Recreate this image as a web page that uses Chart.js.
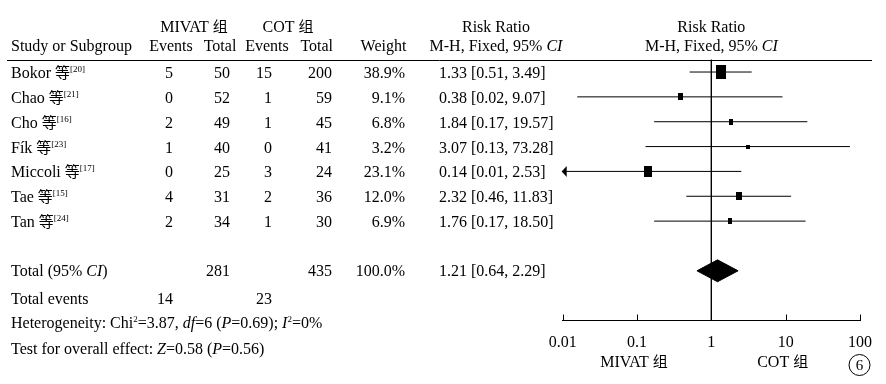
<!DOCTYPE html>
<html><head><meta charset="utf-8">
<style>html,body{margin:0;padding:0;background:#fff;overflow:hidden}canvas{display:block}</style>
<script src="https://cdn.jsdelivr.net/npm/chart.js@4/dist/chart.umd.min.js"></script>
</head><body>
<canvas id="c" width="886" height="384"></canvas>
<script>
// ---------- data ----------
const studies = ['Bokor', 'Chao', 'Cho', 'Fík', 'Miccoli', 'Tae', 'Tan'];
const refs = ['20', '21', '16', '23', '17', '15', '24'];
const mivatEvents = [5, 0, 2, 1, 0, 4, 2];
const mivatTotal = [50, 52, 49, 40, 25, 31, 34];
const cotEvents = [15, 1, 1, 0, 3, 2, 1];
const cotTotal = [200, 59, 45, 41, 24, 36, 30];
const weights = [38.9, 9.1, 6.8, 3.2, 23.1, 12.0, 6.9];
const riskRatio = [1.33, 0.38, 1.84, 3.07, 0.14, 2.32, 1.76];
const ciLow = [0.51, 0.0157, 0.17, 0.13, 0.0075, 0.46, 0.17];
const ciHigh = [3.49, 9.07, 19.57, 73.28, 2.53, 11.83, 18.50];
const totalRR = [1.21];
const totalLow = [0.64];
const totalHigh = [2.29];
const totalN = [281, 435];
const totalEvents = [14, 23];
const totalWeight = ['100.0%'];
const xTicks = [0.01, 0.1, 1, 10, 100];
const groupLabels = ['MIVAT 组', 'COT 组'];

// ---------- fonts / helpers ----------
const SERIF = '"Liberation Serif","Times New Roman",serif';
const CJK = '"Noto Sans CJK SC","Noto Sans CJK JP",sans-serif';
const FS = 16;
const FONTS = {n: FS + 'px ' + SERIF, i: 'italic ' + FS + 'px ' + SERIF, c: '15px ' + CJK, s: '9px ' + SERIF};
const RAISE = {n: 0, i: 0, c: 0, s: -6};

function rich(ctx, segs, x, y, align) {
  let w = 0;
  for (const s of segs) { ctx.font = FONTS[s[1]]; w += ctx.measureText(s[0]).width; }
  let cx = align === 'center' ? x - w / 2 : align === 'right' ? x - w : x;
  ctx.textAlign = 'left';
  ctx.textBaseline = 'alphabetic';
  for (const s of segs) {
    ctx.font = FONTS[s[1]];
    ctx.fillText(s[0], cx, y + RAISE[s[1]]);
    cx += ctx.measureText(s[0]).width;
  }
}
function splitCJK(str) {
  const out = [];
  for (const ch of str) {
    const f = /[\u3000-\u9fff]/.test(ch) ? 'c' : 'n';
    if (out.length && out[out.length - 1][1] === f) out[out.length - 1][0] += ch;
    else out.push([ch, f]);
  }
  return out;
}
const ci = (a, b, c) => a.toFixed(2) + ' [' + b.toFixed(2) + ', ' + c.toFixed(2) + ']';

// ---------- marker images ----------
function boxImg(wt) {
  const h = Math.round(Math.max(4, 2.25 * Math.sqrt(wt)));
  const w = Math.round(Math.max(4, h * 0.7));
  const cv = document.createElement('canvas');
  cv.width = w; cv.height = h;
  const g = cv.getContext('2d');
  g.fillStyle = '#000'; g.fillRect(0, 0, w, h);
  return cv;
}
const boxes = weights.map(boxImg);

// ---------- datasets ----------
const DH = 0.44;
const TOTAL_ROW = 8;
const datasets = [];
datasets.push({
  data: [{x: 1, y: -0.5}, {x: 1, y: 10}], showLine: true,
  borderColor: '#000', borderWidth: 1, pointRadius: 0
});
studies.forEach((s, i) => {
  datasets.push({
    data: [{x: ciLow[i], y: i}, {x: ciHigh[i], y: i}], showLine: true,
    borderColor: '#000', borderWidth: 1, pointRadius: 0
  });
});
datasets.push({
  data: riskRatio.map((v, i) => ({x: v, y: i})), showLine: false,
  pointStyle: boxes, pointRadius: 3, borderWidth: 0
});
datasets.push({
  data: [
    {x: totalLow[0], y: TOTAL_ROW}, {x: totalRR[0], y: TOTAL_ROW - DH},
    {x: totalHigh[0], y: TOTAL_ROW}, {x: totalRR[0], y: TOTAL_ROW + DH},
    {x: totalLow[0], y: TOTAL_ROW}
  ],
  showLine: true, fill: 'shape', backgroundColor: '#000', borderColor: '#000',
  borderWidth: 1, pointRadius: 0, tension: 0
});

// ---------- drawing plugin ----------
const tablePlugin = {
  id: 'table',
  afterDraw(chart) {
    const ctx = chart.ctx, xs = chart.scales.x, ys = chart.scales.y, area = chart.chartArea;
    ctx.save();
    ctx.fillStyle = '#000'; ctx.strokeStyle = '#000'; ctx.lineWidth = 1;
    ctx.beginPath(); ctx.moveTo(7, Math.round(area.top) + 0.5); ctx.lineTo(872, Math.round(area.top) + 0.5); ctx.stroke();
    xTicks.forEach(t => {
      const px = Math.round(xs.getPixelForValue(t)) + 0.5;
      ctx.beginPath(); ctx.moveTo(px, area.bottom); ctx.lineTo(px, area.bottom - 6); ctx.stroke();
    });
    studies.forEach((s, i) => {
      if (ciLow[i] < xs.min) {
        const px = xs.getPixelForValue(xs.min) - 1, py = ys.getPixelForValue(i);
        ctx.beginPath(); ctx.moveTo(px, py); ctx.lineTo(px + 5, py - 5.5); ctx.lineTo(px + 5, py + 5.5); ctx.closePath(); ctx.fill();
      }
    });
    const h1 = 31.5, h2 = 50.5;
    rich(ctx, splitCJK(groupLabels[0]), 194, h1, 'center');
    rich(ctx, splitCJK(groupLabels[1]), 288, h1, 'center');
    rich(ctx, [['Risk Ratio', 'n']], 496, h1, 'center');
    rich(ctx, [['Risk Ratio', 'n']], xs.getPixelForValue(1), h1, 'center');
    rich(ctx, [['Study or Subgroup', 'n']], 11, h2, 'left');
    rich(ctx, [['Events', 'n']], 171, h2, 'center');
    rich(ctx, [['Total', 'n']], 220, h2, 'center');
    rich(ctx, [['Events', 'n']], 267, h2, 'center');
    rich(ctx, [['Total', 'n']], 316.7, h2, 'center');
    rich(ctx, [['Weight', 'n']], 383.5, h2, 'center');
    const mh = [['M-H, Fixed, 95% ', 'n'], ['CI', 'i']];
    rich(ctx, mh, 496, h2, 'center');
    rich(ctx, mh, xs.getPixelForValue(1), h2, 'center');
    studies.forEach((s, i) => {
      const y = ys.getPixelForValue(i) + 6;
      rich(ctx, [[s + ' ', 'n'], ['等', 'c'], ['[' + refs[i] + ']', 's']], 11, y, 'left');
      rich(ctx, [[String(mivatEvents[i]), 'n']], 173, y, 'right');
      rich(ctx, [[String(mivatTotal[i]), 'n']], 230, y, 'right');
      rich(ctx, [[String(cotEvents[i]), 'n']], 272, y, 'right');
      rich(ctx, [[String(cotTotal[i]), 'n']], 332, y, 'right');
      rich(ctx, [[weights[i].toFixed(1) + '%', 'n']], 405, y, 'right');
      rich(ctx, [[ci(riskRatio[i], ciLow[i], ciHigh[i]), 'n']], 439, y, 'left');
    });
    const yt = ys.getPixelForValue(TOTAL_ROW) + 5.5;
    rich(ctx, [['Total (95% ', 'n'], ['CI', 'i'], [')', 'n']], 11, yt, 'left');
    rich(ctx, [[String(totalN[0]), 'n']], 230, yt, 'right');
    rich(ctx, [[String(totalN[1]), 'n']], 332, yt, 'right');
    rich(ctx, [[totalWeight[0], 'n']], 405, yt, 'right');
    rich(ctx, [[ci(totalRR[0], totalLow[0], totalHigh[0]), 'n']], 439, yt, 'left');
    rich(ctx, [['Total events', 'n']], 11, 304, 'left');
    rich(ctx, [[String(totalEvents[0]), 'n']], 173, 304, 'right');
    rich(ctx, [[String(totalEvents[1]), 'n']], 272, 304, 'right');
    rich(ctx, [['Heterogeneity: Chi', 'n'], ['2', 's'], ['=3.87, ', 'n'], ['df', 'i'], ['=6 (', 'n'], ['P', 'i'],
      ['=0.69); ', 'n'], ['I', 'i'], ['2', 's'], ['=0%', 'n']], 11, 327.5, 'left');
    rich(ctx, [['Test for overall effect: ', 'n'], ['Z', 'i'], ['=0.58 (', 'n'], ['P', 'i'], ['=0.56)', 'n']], 11, 353.5, 'left');
    rich(ctx, splitCJK(groupLabels[0]), xs.getPixelForValue(0.1) - 3, 367, 'center');
    rich(ctx, splitCJK(groupLabels[1]), xs.getPixelForValue(10) - 3, 367, 'center');
    ctx.beginPath(); ctx.arc(859.5, 365, 10.5, 0, Math.PI * 2); ctx.stroke();
    ctx.font = '15px ' + SERIF; ctx.textAlign = 'center'; ctx.textBaseline = 'alphabetic';
    ctx.fillText('6', 859.5, 370);
    ctx.restore();
  }
};

new Chart(document.getElementById('c'), {
  type: 'scatter',
  data: {datasets},
  options: {
    responsive: false, animation: false, devicePixelRatio: 1,
    layout: {padding: {left: 562.7, right: 26, top: 59.6, bottom: 0}},
    plugins: {legend: {display: false}, tooltip: {enabled: false}},
    scales: {
      x: {
        type: 'logarithmic', min: 0.01, max: 100, position: 'bottom',
        afterBuildTicks(s) { s.ticks = xTicks.map(v => ({value: v})); },
        afterFit(s) { s.height = 384 - 320.5; },
        grid: {display: false, drawTicks: false},
        border: {display: true, color: '#000', width: 1},
        ticks: {color: '#000', font: {family: SERIF, size: 16}, padding: 13, autoSkip: false, maxRotation: 0,
          callback: v => String(v)}
      },
      y: {type: 'linear', min: -0.5, max: 10, reverse: true, display: false}
    }
  },
  plugins: [tablePlugin]
});
</script>
</body></html>
